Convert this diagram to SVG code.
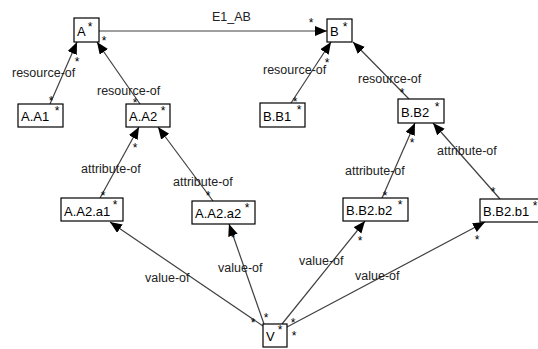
<svg xmlns="http://www.w3.org/2000/svg" width="538" height="349" viewBox="0 0 538 349">
<defs>
<marker id="arr" markerUnits="userSpaceOnUse" markerWidth="13" markerHeight="11" refX="12" refY="5" orient="auto">
<path d="M0,0 L12,5 L0,10 z" fill="#000"/>
</marker>
<style>
.box{fill:#fff;stroke:#000;stroke-width:1.2}
.t{font-family:"Liberation Sans",Arial,sans-serif;font-size:13px;fill:#000}
.l{font-family:"Liberation Sans",Arial,sans-serif;font-size:12.5px;fill:#222}
.s{font-family:"Liberation Sans",Arial,sans-serif;font-size:12px;fill:#000;text-anchor:middle}
.e{stroke:#404040;stroke-width:1.2;fill:none;marker-end:url(#arr)}
</style>
</defs>
<rect width="538" height="349" fill="#fff"/>
<g id="connectors">
<line class="e" x1="99" y1="31" x2="327" y2="31"/>
<line class="e" x1="50" y1="104" x2="77" y2="42"/>
<line class="e" x1="140" y1="104" x2="97" y2="42"/>
<line class="e" x1="100" y1="198" x2="139" y2="127"/>
<line class="e" x1="213" y1="201" x2="158" y2="127"/>
<line class="e" x1="291" y1="103" x2="331" y2="42"/>
<line class="e" x1="409" y1="99" x2="353" y2="42"/>
<line class="e" x1="382" y1="198" x2="415" y2="123"/>
<line class="e" x1="500" y1="199" x2="433" y2="123"/>
<line class="e" x1="263" y1="326" x2="110" y2="222"/>
<line class="e" x1="264" y1="324" x2="229" y2="224"/>
<line class="e" x1="282" y1="324" x2="365" y2="221"/>
<line class="e" x1="287" y1="327" x2="485" y2="222"/>
<text class="l" x="212" y="21">E1_AB</text>
<text class="l" x="12" y="77">resource-of</text>
<text class="l" x="97" y="95">resource-of</text>
<text class="l" x="263" y="74">resource-of</text>
<text class="l" x="358" y="83">resource-of</text>
<text class="l" x="81" y="173">attribute-of</text>
<text class="l" x="173" y="186">attribute-of</text>
<text class="l" x="345" y="175">attribute-of</text>
<text class="l" x="437" y="155">attribute-of</text>
<text class="l" x="145" y="282">value-of</text>
<text class="l" x="218" y="272">value-of</text>
<text class="l" x="299" y="265">value-of</text>
<text class="l" x="355" y="280">value-of</text>
<g id="edge-stars">
<text class="s" x="104" y="45">*</text>
<text class="s" x="311" y="27">*</text>
<text class="s" x="77" y="66">*</text>
<text class="s" x="51" y="105">*</text>
<text class="s" x="135" y="107">*</text>
<text class="s" x="135" y="152">*</text>
<text class="s" x="103" y="200">*</text>
<text class="s" x="208" y="200">*</text>
<text class="s" x="253" y="327">*</text>
<text class="s" x="233" y="242">*</text>
<text class="s" x="266" y="322">*</text>
<text class="s" x="360" y="245">*</text>
<text class="s" x="293" y="327">*</text>
<text class="s" x="477" y="244">*</text>
<text class="s" x="294" y="340">*</text>
<text class="s" x="327" y="67">*</text>
<text class="s" x="295" y="106">*</text>
<text class="s" x="402" y="97">*</text>
<text class="s" x="412" y="147">*</text>
<text class="s" x="385" y="200">*</text>
<text class="s" x="493" y="196">*</text>
</g>
</g>
<g id="node-A"><rect class="box" x="74" y="18" width="25" height="24"/><text class="t" x="77" y="36">A</text><text class="s" x="90" y="31">*</text></g>
<g id="node-B"><rect class="box" x="327" y="19" width="25" height="23"/><text class="t" x="330" y="36">B</text><text class="s" x="345" y="31">*</text></g>
<g id="node-AA1"><rect class="box" x="18" y="104" width="45" height="23"/><text class="t" x="21" y="121">A.A1</text><text class="s" x="57" y="115">*</text></g>
<g id="node-AA2"><rect class="box" x="126" y="104" width="44" height="23"/><text class="t" x="129" y="121">A.A2</text><text class="s" x="163" y="115">*</text></g>
<g id="node-BB1"><rect class="box" x="260" y="103" width="45" height="24"/><text class="t" x="263" y="121">B.B1</text><text class="s" x="299" y="114">*</text></g>
<g id="node-BB2"><rect class="box" x="398" y="99" width="46" height="24"/><text class="t" x="401" y="117">B.B2</text><text class="s" x="437" y="111">*</text></g>
<g id="node-AA2a1"><rect class="box" x="61" y="198" width="62" height="23"/><text class="t" x="64" y="216">A.A2.a1</text><text class="s" x="115" y="209">*</text></g>
<g id="node-AA2a2"><rect class="box" x="192" y="201" width="63" height="23"/><text class="t" x="195" y="218">A.A2.a2</text><text class="s" x="247" y="212">*</text></g>
<g id="node-BB2b2"><rect class="box" x="343" y="198" width="65" height="23"/><text class="t" x="346" y="215">B.B2.b2</text><text class="s" x="400" y="209">*</text></g>
<g id="node-BB2b1"><rect class="box" x="480" y="199" width="63" height="23"/><text class="t" x="483" y="216">B.B2.b1</text><text class="s" x="535" y="210">*</text></g>
<g id="node-V"><rect class="box" x="263" y="324" width="24" height="23"/><text class="t" x="266" y="341">V</text><text class="s" x="280" y="334">*</text></g>
</svg>
